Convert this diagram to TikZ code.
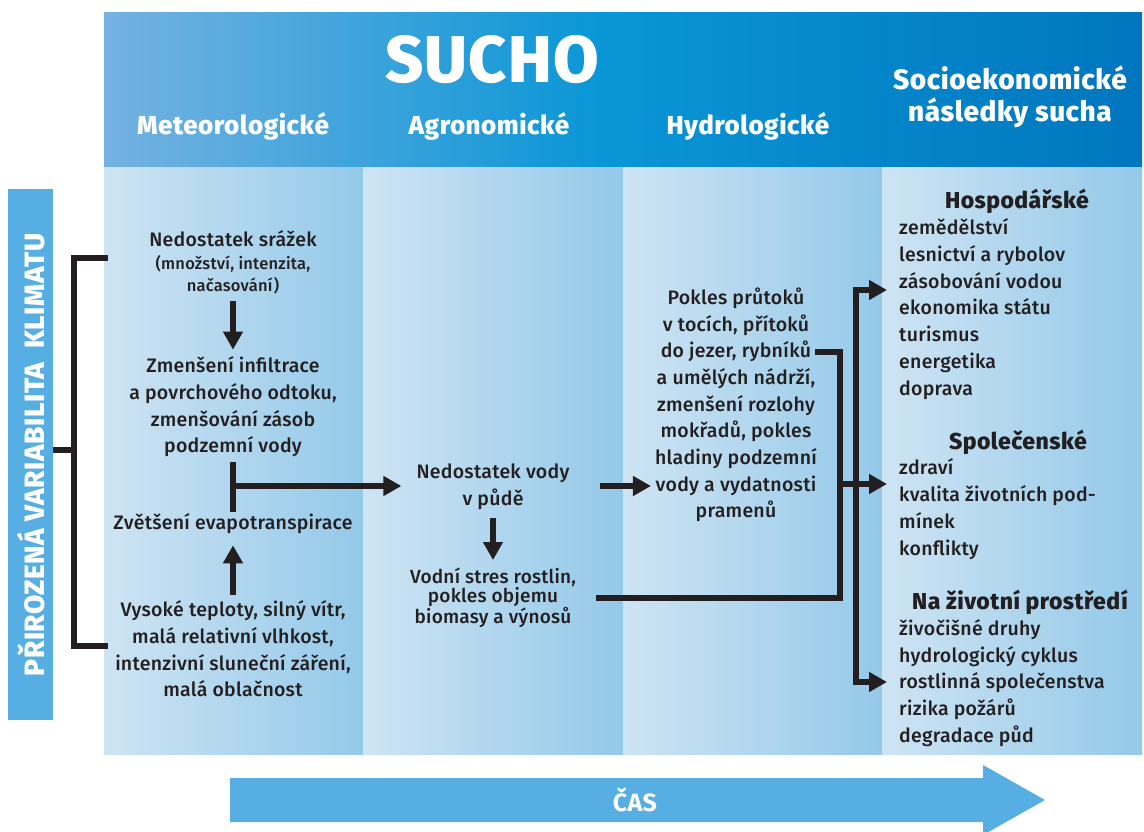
\documentclass[tikz,border=0pt]{standalone}
\usepackage{fontspec}
\setmainfont{Fira Sans}[UprightFont=* Medium, BoldFont=* Bold, LetterSpace=1.3]
\newfontfamily\heavyfont{Fira Sans ExtraBold}[LetterSpace=2]
\usetikzlibrary{arrows.meta,calc}
\definecolor{ink}{RGB}{35,31,32}
\definecolor{hdrL}{RGB}{117,178,225}
\definecolor{hdrM}{RGB}{10,150,214}
\definecolor{hdrR}{RGB}{0,118,190}
\definecolor{colL}{RGB}{206,228,243}
\definecolor{colR}{RGB}{148,201,233}
\definecolor{barblue}{RGB}{86,174,226}
\begin{document}
\begin{tikzpicture}[x=1pt,y=-1pt,
  txt/.style={inner sep=0pt, align=center, text=ink, font=\fontsize{19.5}{26.7}\selectfont},
  lst/.style={inner sep=0pt, align=left, anchor=west, text=ink, font=\fontsize{19.5}{26.8}\selectfont},
  sub/.style={inner sep=0pt, align=center, text=ink, font=\heavyfont\fontsize{23}{26}\selectfont},
  hd/.style={inner sep=0pt, align=center, text=white, font=\heavyfont\fontsize{26}{32}\selectfont},
  link/.style={draw=ink, line width=6pt},
  arr/.style={link, -{Triangle[length=18pt,width=19pt]}},
]
\useasboundingbox (0,0) rectangle (1144,832);
\fill[white] (0,0) rectangle (1144,832);
% header band
\shade[left color=hdrL, right color=hdrM] (104,13) rectangle (600,168);
\shade[left color=hdrM, right color=hdrR] (600,13) rectangle (1142,168);
% columns
\foreach \a/\b in {104/363,363/623,623/882,882/1142}
  \shade[left color=colL, right color=colR] (\a,168) rectangle (\b,754);
% header texts
\node[font=\heavyfont\fontsize{66}{66}\selectfont, text=white, inner sep=0pt] (sucho) at (492,60) {SUCHO};
\node[hd] (met) at (233,126) {Meteorologické};
\node[hd] (agr) at (489,126) {Agronomické};
\node[hd] (hyd) at (748,126) {Hydrologické};
\node[hd, font=\heavyfont\fontsize{28}{32}\selectfont] (soc) at (1010,97) {Socioekonomické\\následky sucha};
% left bar
\node[fill=barblue, minimum width=45pt, minimum height=531pt, inner sep=0pt] (lbar) at (30.5,454.5) {};
\node[rotate=90, text=white, font=\heavyfont\fontsize{28}{30}\selectfont, inner sep=0pt] (lbartxt) at (31,455) {PŘIROZENÁ VARIABILITA\ \ KLIMATU};
% column 1
\node[txt] (n1) at (233,239) {Nedostatek srážek};
\node[txt, font=\fontsize{16.5}{22}\selectfont] (n1b) at (233,275) {(množství, intenzita,\\načasování)};
\node[txt] (n2) at (233,407) {Zmenšení infiltrace\\a povrchového odtoku,\\zmenšování zásob\\podzemní vody};
\node[txt] (n3) at (233,524) {Zvětšení evapotranspirace};
\node[txt] (n4) at (233,649) {Vysoké teploty, silný vítr,\\malá relativní vlhkost,\\intenzivní sluneční záření,\\malá oblačnost};
% column 2
\node[txt] (n5) at (493,487) {Nedostatek vody\\v půdě};
\node[txt, font=\fontsize{19}{18.5}\selectfont] (n6) at (493,598) {Vodní stres rostlin,\\pokles objemu\\biomasy a výnosů};
% column 3
\node[txt] (n7) at (736,405) {Pokles průtoků\\v tocích, přítoků\\do jezer, rybníků\\a umělých nádrží,\\zmenšení rozlohy\\mokřadů, pokles\\hladiny podzemní\\vody a vydatnosti\\pramenů};
% column 4
\node[sub] (h1) at (1017,201) {Hospodářské};
\node[lst] (l1) at (899,309) {zemědělství\\lesnictví a rybolov\\zásobování vodou\\ekonomika státu\\turismus\\energetika\\doprava};
\node[sub] (h2) at (1018,442) {Společenské};
\node[lst] (l2) at (899,509) {zdraví\\kvalita životních pod-\\mínek\\konflikty};
\node[sub] (h3) at (1020,602) {Na životní prostředí};
\node[lst] (l3) at (899,683) {živočišné druhy\\hydrologický cyklus\\rostlinná společenstva\\rizika požárů\\degradace půd};
% bracket
\coordinate (bkm) at (74,450);
\coordinate (bkt) at (108,258);
\coordinate (bkb) at (108,646);
\draw[link] (lbar.east |- bkm) -- (bkm);
\draw[link] (bkt) -| (bkm) |- (bkb);
% column 1 arrows
\draw[arr, shorten <=7pt, shorten >=7pt] (n1b.south) -- (n2.north);
\draw[arr, shorten <=6pt, shorten >=11pt] (n4.north) -- (n3.south);
\coordinate (tbt) at ($(n2.south)+(0,5)$);
\coordinate (tbb) at ($(n3.north)+(0,-2)$);
\coordinate (tbm) at (233,486);
\draw[link] (tbt) -- (tbb);
\draw[arr, shorten >=15pt] (tbm) -- (tbm -| n5.west);
% column 2 arrows
\draw[arr, shorten <=8pt, shorten >=8pt] (n5.south) -- (n6.north);
\draw[arr, shorten >=4pt] ($(n5.east)+(30,-1)$) -- ($(n5.east -| n7.west)+(0,-1)$);
% collector
\coordinate (cvx) at (840,352);
\coordinate (ryb) at (815,352);
\draw[link] ($(n6.east)+(20,0)$) -| (cvx) -- (ryb);
\coordinate (jm) at (840,484);
\draw[arr, shorten >=12pt] (jm) -- (jm -| l2.west);
\coordinate (bt) at (856,290);
\coordinate (bb) at (856,682);
\coordinate (bm) at (856,486);
\draw[arr, shorten >=12pt] (bm) |- (bt -| l1.west);
\draw[arr, shorten >=12pt] (bm) |- (bb -| l3.west);
% time arrow
\fill[barblue] (230,778) -- (983,778) -- (983,765) -- (1045,800) -- (983,835) -- (983,822) -- (230,822) -- cycle;
\node[text=white, font=\bfseries\fontsize{25}{26}\selectfont, inner sep=0pt] (cas) at (635,800) {ČAS};
\end{tikzpicture}
\end{document}
